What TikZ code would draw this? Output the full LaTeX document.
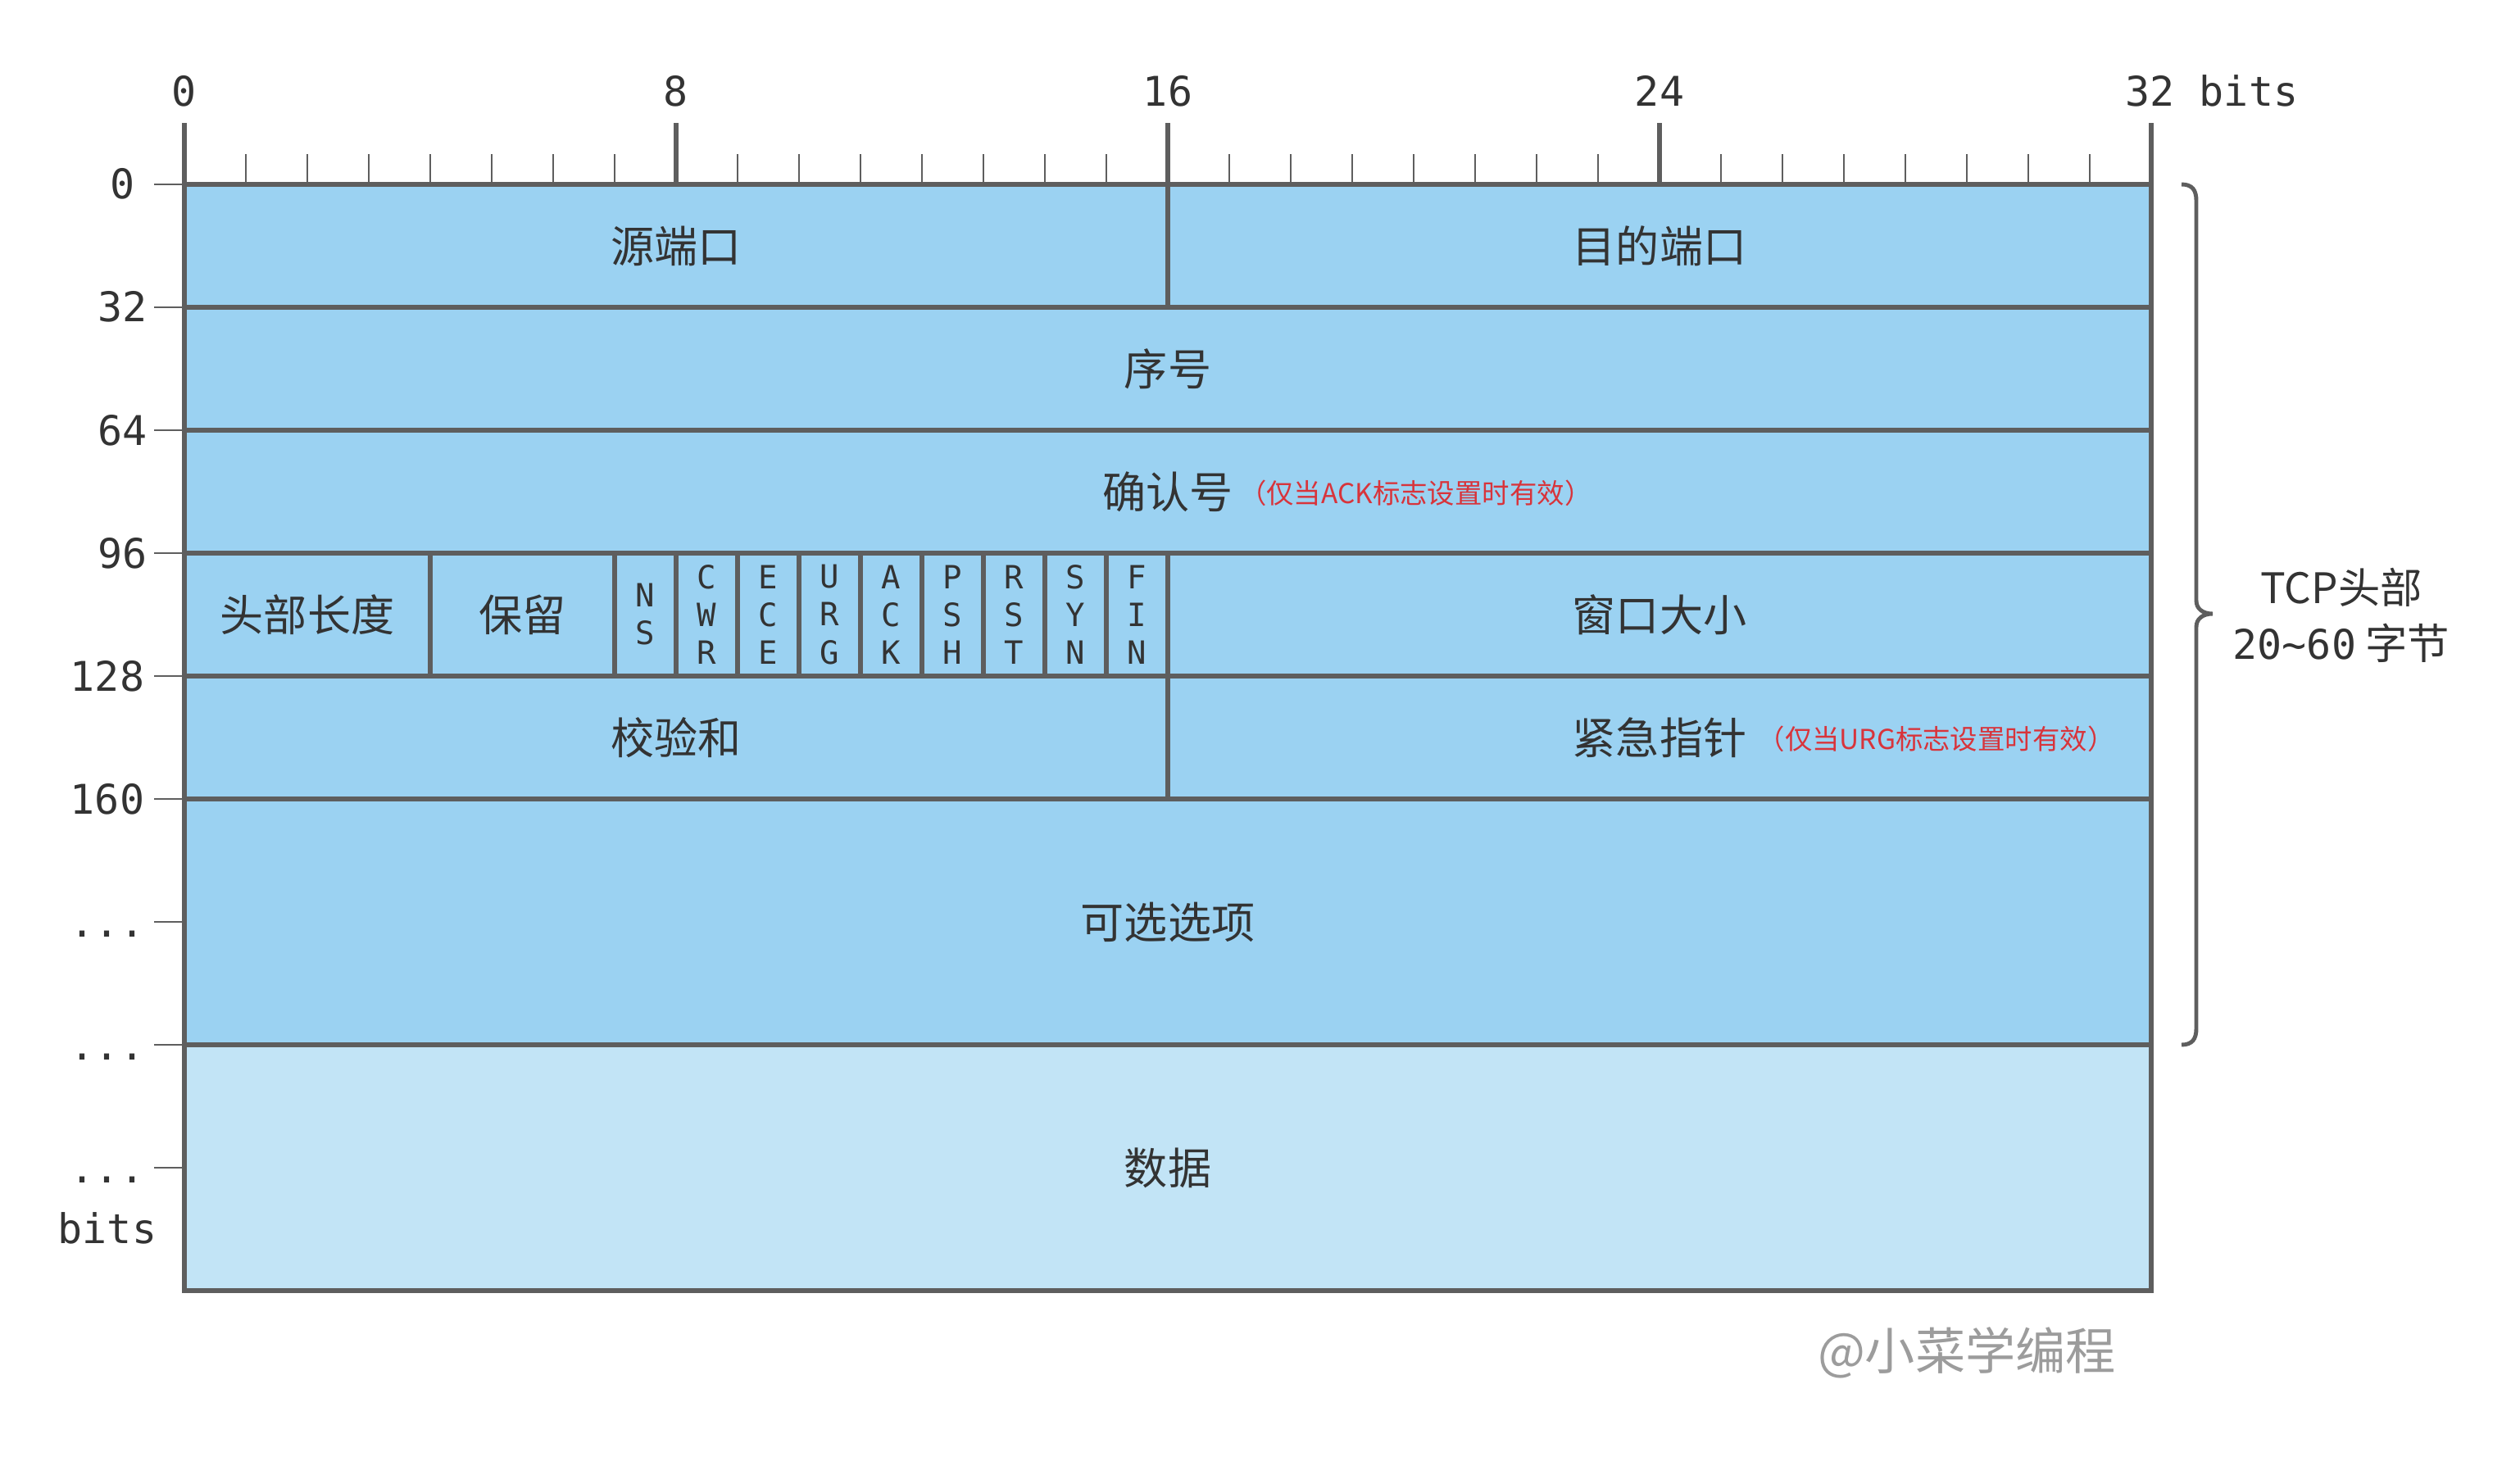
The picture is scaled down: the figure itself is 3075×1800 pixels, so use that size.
\documentclass[tikz,border=0pt]{standalone}
\usepackage{fontspec}
\setmonofont{DejaVu Sans Mono}
\newfontfamily\cjk{Noto Sans CJK SC}
\usetikzlibrary{calc}
\definecolor{hdrfill}{HTML}{9BD2F2}
\definecolor{datfill}{HTML}{C2E4F6}
\definecolor{linec}{HTML}{5E5E5E}
\definecolor{txtc}{HTML}{333333}
\definecolor{notec}{HTML}{D8343B}
\definecolor{wmc}{HTML}{9C9C9C}
\begin{document}
\begin{tikzpicture}[x=0.01cm, y=-0.01cm, line join=miter,
  frame/.style={draw=linec, line width=1.5pt},
  thintick/.style={draw=linec, line width=0.6pt},
  bracestyle/.style={draw=linec, line width=1.4pt},
  lbl/.style={font=\ttfamily\fontsize{14.2pt}{17pt}\selectfont, text=txtc, inner sep=0pt},
  cn/.style={font=\cjk\fontsize{15.1pt}{18pt}\selectfont, text=txtc, inner sep=0pt},
  flagtxt/.style={font=\ttfamily\fontsize{11.1pt}{13.1pt}\selectfont, text=txtc, inner sep=0pt, align=center},
  note/.style={font=\cjk\fontsize{9.5pt}{11pt}\selectfont, text=notec, inner sep=0pt, anchor=west},
  bracetxt/.style={font=\cjk\fontsize{14.6pt}{17pt}\selectfont, text=txtc, inner sep=0pt},
  wmark/.style={font=\cjk\fontsize{17.4pt}{20pt}\selectfont, text=wmc, inner sep=0pt}]
\useasboundingbox (0,0) rectangle (3075,1800);
% fills
\fill[hdrfill] (225,225) rectangle (2625,1275);
\fill[datfill] (225,1275) rectangle (2625,1575);
% ruler
\foreach \b in {1,...,31} \draw[thintick] ({225+75*\b},225) -- ({225+75*\b},188);
\foreach \b in {0,8,16,24,32} \draw[frame] ({225+75*\b},225) -- ({225+75*\b},150);
% left ticks
\foreach \y in {225,375,525,675,825,975,1125,1275,1425} \draw[thintick] (188,\y) -- (225,\y);
% grid lines
\foreach \y in {375,525,675,825,975,1275} \draw[frame] (225,\y) -- (2625,\y);
\draw[frame] (1425,225) -- (1425,375);
\foreach \b in {4,7,8,9,10,11,12,13,14,15,16} \draw[frame] ({225+75*\b},675) -- ({225+75*\b},825);
\draw[frame] (1425,825) -- (1425,975);
\draw[frame] (225,225) rectangle (2625,1575);
% top labels
\node[lbl, anchor=base] (t0) at (225,130) {0};
\node[lbl, anchor=base] (t8) at (825,130) {8};
\node[lbl, anchor=base] (t16) at (1425,130) {16};
\node[lbl, anchor=base] (t24) at (2025,130) {24};
\node[lbl, anchor=base west] (t32) at (2593,130) {32 bits};
% left labels
\node[lbl, anchor=base] (l0) at (150,243) {0};
\node[lbl, anchor=base] (l32) at (150,393) {32};
\node[lbl, anchor=base] (l64) at (150,543) {64};
\node[lbl, anchor=base] (l96) at (150,693) {96};
\node[lbl, anchor=base] (l128) at (131,843) {128};
\node[lbl, anchor=base] (l160) at (131,993) {160};
\node[lbl, anchor=base] (ld1) at (131,1143) {...};
\node[lbl, anchor=base] (ld2) at (131,1293) {...};
\node[lbl, anchor=base] (ld3) at (131,1443) {...};
\node[lbl, anchor=base] (lbits) at (131,1517) {bits};
% field labels
\node[cn] (src) at (825,300) {源端口};
\node[cn] (dst) at (2025,300) {目的端口};
\node[cn] (seq) at (1425,450) {序号};
\node[cn] (ack) at (1425,600) {确认号};
\node[note] (acknote) at ($(ack.east)+(6,2)$) {（仅当ACK标志设置时有效）};
\node[cn] (hlen) at (375,750) {头部长度};
\node[cn] (rsv) at (637.5,750) {保留};
\node[flagtxt] (fns) at (787.5,750) {N\\S};
\node[flagtxt] (fcwr) at (862.5,750) {C\\W\\R};
\node[flagtxt] (fece) at (937.5,750) {E\\C\\E};
\node[flagtxt] (furg) at (1012.5,750) {U\\R\\G};
\node[flagtxt] (fack) at (1087.5,750) {A\\C\\K};
\node[flagtxt] (fpsh) at (1162.5,750) {P\\S\\H};
\node[flagtxt] (frst) at (1237.5,750) {R\\S\\T};
\node[flagtxt] (fsyn) at (1312.5,750) {S\\Y\\N};
\node[flagtxt] (ffin) at (1387.5,750) {F\\I\\N};
\node[cn] (win) at (2025,750) {窗口大小};
\node[cn] (chk) at (825,900) {校验和};
\node[cn] (urg) at (2025,900) {紧急指针};
\node[note] (urgnote) at ($(urg.east)+(12,2)$) {（仅当URG标志设置时有效）};
\node[cn] (opt) at (1425,1125) {可选选项};
\node[cn] (data) at (1425,1425) {数据};
% brace
\coordinate (btop) at (2662,225);
\coordinate (btip) at (2700,749);
\coordinate (bbot) at (2662,1275);
\draw[bracestyle] (btop) .. controls (2675,225) and (2680,232) .. (2680,245) -- (2680,733)
  .. controls (2680,743) and (2688,749) .. (btip)
  .. controls (2688,749) and (2680,755) .. (2680,765) -- (2680,1255)
  .. controls (2680,1268) and (2675,1275) .. (bbot);
\node[bracetxt] (bt1) at (2857,717) {TCP头部};
\node[bracetxt] (bt2) at (2857,785) {{\ttfamily\fontsize{14.2pt}{17pt}\selectfont 20\string~60} 字节};
% watermark
\node[wmark] (wm) at (2400,1651) {@小菜学编程};
\end{tikzpicture}
\end{document}
